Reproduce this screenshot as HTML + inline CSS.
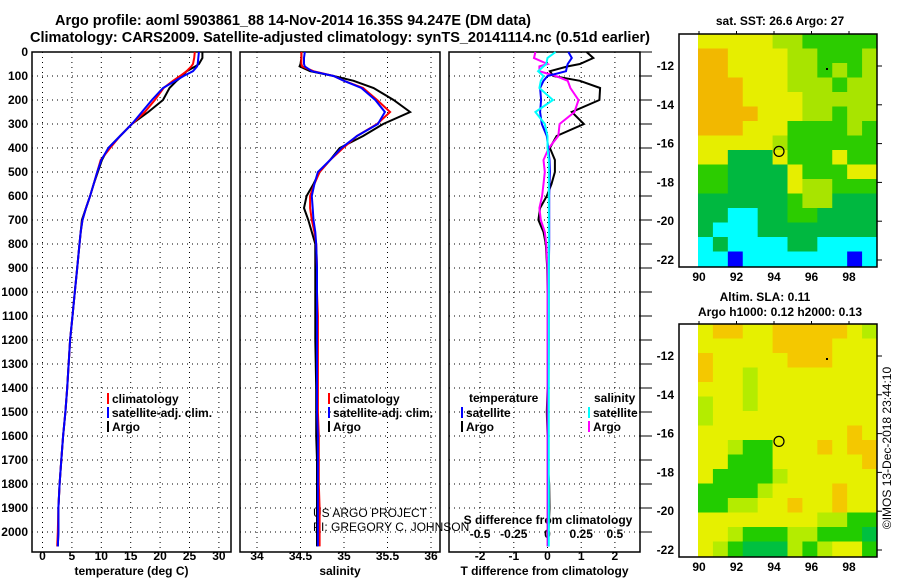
<!DOCTYPE html>
<html><head><meta charset="utf-8"><style>
body{margin:0;background:#fff}
svg{display:block;font-family:"Liberation Sans",sans-serif;font-weight:bold}
</style></head><body>
<svg id="c" width="900" height="580" viewBox="0 0 900 580">
<text x="293" y="25" font-size="14.5" text-anchor="middle" textLength="476">Argo profile: aoml 5903861_88 14-Nov-2014 16.35S 94.247E (DM data)</text>
<text x="340" y="42" font-size="14.5" text-anchor="middle" textLength="620">Climatology: CARS2009. Satellite-adjusted climatology: synTS_20141114.nc (0.51d earlier)</text>
<text x="780" y="25" font-size="12" text-anchor="middle">sat. SST: 26.6 Argo: 27</text>
<text x="765" y="301" font-size="12" text-anchor="middle">Altim. SLA: 0.11</text>
<text x="780" y="316" font-size="12" text-anchor="middle">Argo h1000: 0.12 h2000: 0.13</text>
<text transform="translate(891,448) rotate(-90)" font-size="12" font-weight="normal" text-anchor="middle">©IMOS 13-Dec-2018 23:44:10</text>
<text x="313" y="517" font-size="12" font-weight="normal">US ARGO PROJECT</text>
<text x="313" y="531" font-size="12" font-weight="normal">PI: GREGORY C. JOHNSON</text>
<g id="plots"></g>
</svg>
<script>
// depth levels (m)
const depths=[0,25,50,60,80,100,120,150,200,250,300,350,400,450,500,550,600,650,700,750,800,900,1000,1100,1200,1400,1500,1600,1700,1800,1900,2000,2060];
const tempArgo=[27.2,27.2,26.6,26,24.5,23.8,22.8,21.6,20.5,18,15.2,13.2,11.2,10.1,9.4,8.7,8.1,7.4,6.7,6.5,6.3,5.9,5.5,5.1,4.7,4.2,3.9,3.5,3.2,2.9,2.7,2.7,2.6];
const tempClim=[25.9,25.8,25.6,25.3,24.5,23.4,22.2,20.6,19.1,17.4,15.2,13.2,11.5,9.9,9.3,8.7,8.1,7.4,6.8,6.5,6.3,5.9,5.5,5.1,4.7,4.2,3.9,3.5,3.2,2.9,2.7,2.6,2.5];
const tempSat=[26.6,26.5,26.4,26.3,25.6,24,22.6,20.5,18.6,16.9,15.2,13.2,11.2,10,9.3,8.7,8.1,7.4,6.8,6.5,6.3,5.9,5.5,5.1,4.7,4.2,3.9,3.5,3.2,2.9,2.7,2.7,2.6];
const salArgo=[34.51,34.51,34.5,34.49,34.61,34.88,35.11,35.34,35.57,35.76,35.45,35.22,34.95,34.84,34.72,34.65,34.57,34.54,34.59,34.63,34.67,34.67,34.67,34.67,34.67,34.68,34.68,34.68,34.69,34.69,34.69,34.69,34.69];
const salClim=[34.51,34.51,34.51,34.52,34.65,34.88,35.0,35.22,35.38,35.53,35.38,35.15,34.99,34.84,34.72,34.66,34.61,34.61,34.63,34.66,34.68,34.69,34.69,34.7,34.7,34.7,34.7,34.71,34.71,34.71,34.72,34.72,34.72];
const salSat=[34.55,34.54,34.54,34.55,34.63,34.88,35.0,35.2,35.36,35.47,35.39,35.15,34.97,34.84,34.7,34.66,34.63,34.64,34.65,34.67,34.68,34.69,34.69,34.69,34.69,34.69,34.69,34.7,34.7,34.7,34.7,34.7,34.7];
const dTArgo=[1.16,1.36,0.96,0.6,0.07,0.17,0.96,1.56,1.54,0.72,1.08,0.27,0.07,0.22,0.22,0.12,-0.02,-0.22,-0.27,-0.12,-0.05,-0.01,0,0,0,0,-0.02,0,0,0.05,0.06,0.03,0.03];
const dTSat=[0.62,0.72,0.6,0.58,0.55,0.0,-0.12,-0.22,-0.19,-0.22,-0.17,-0.02,0.02,0.06,0.07,0.06,0.05,0.05,0.05,0.05,0.05,0.04,0.04,0.04,0.04,0.03,0.03,0.03,0.03,0.03,0.03,0.03,0.03];
const dSArgo=[-0.09,-0.1,0.0,-0.06,-0.06,0.06,0.15,0.17,0.23,0.2,0.09,0.08,0.01,-0.03,-0.02,-0.03,-0.04,-0.06,-0.05,-0.02,-0.01,0,0,0,0,0,0,0,0,0,0,0,0];
const dSSat=[0.06,0.0,-0.01,-0.03,-0.07,-0.03,-0.05,-0.06,0.04,-0.09,-0.02,0.0,0.0,0.01,0.01,0.01,0.01,0.01,0.01,0.01,0.01,0.01,0.01,0.01,0.01,0.01,0.01,0.01,0.01,0.01,0.01,0.01,0.01];
const depthTicks=[0,100,200,300,400,500,600,700,800,900,1000,1100,1200,1300,1400,1500,1600,1700,1800,1900,2000];
const tempTicks=[0,5,10,15,20,25,30];
const salTicks=[34,34.5,35,35.5,36];
const dTTicks=[-2,-1,0,1,2];
const dSTicks=[-0.5,-0.25,0,0.25,0.5];
const sstRows=["yyyyyllggggg","ooyyyyllgggl","ooyyyyllglgl","oooyyylllgll","oooyyyylllll","ooooyyyllgll","oooyyygggglg","yyyyylgggggg","yydddygggygg","ggddddygggyy","ggddddyllggg","ddddddgllsdd","ddccddggdddd","dcccdddddddd","cdccccddcccc","ccbcccccccbc"];
const slaRows=["yooyyoooooyl","yyyyyooooyyy","oyyyyyoooyyy","oyylyyyyyyyy","yyylyyyyyyyy","lyylyyyyyyyy","lyyyyyyyyyyy","yyyyyyyyyyoy","yylggyyyoyoo","yygggyyyyyyo","yggggjyyyyyy","ggggjyyyyoyy","ggjjyyoyyoyy","yyyyyyyyjjgg","yyjgggjjgggd","yjgdddjgjyyg"];

const NS="http://www.w3.org/2000/svg";
const root=document.getElementById('plots');
function mk(tag,at,parent){const e=document.createElementNS(NS,tag);for(const k in at)e.setAttribute(k,at[k]);(parent||root).appendChild(e);return e;}
const Y0=52,YS=0.24,PB=552;
const yD=d=>Y0+d*YS;
const panels=[
 {l:32,r:231,x:v=>42.5+v*5.88,ticks:tempTicks,title:"temperature (deg C)",name:"temperature-panel"},
 {l:240,r:440,x:v=>257+(v-34)*87,ticks:salTicks,title:"salinity",name:"salinity-panel"},
 {l:449,r:640,x:v=>547.5+v*33.7,ticks:dTTicks,title:"T difference from climatology",name:"difference-panel"}
];
const xS=v=>547.5+v*134.8;
panels.forEach((p,i)=>{
 const g=mk('g',{});
 
 
 depthTicks.forEach(d=>{const l=mk('line',{x1:p.l,x2:p.r,y1:yD(d),y2:yD(d),stroke:'#000','stroke-width':1,'stroke-dasharray':'1,4'},g);
  
  if(i===0){const t=mk('text',{x:28,y:yD(d)+4,'font-size':12,'text-anchor':'end'},g);t.textContent=d;
   }
 });
 p.ticks.forEach(v=>{const x=p.x(v);
  const l=mk('line',{x1:x,x2:x,y1:Y0,y2:PB,stroke:'#000','stroke-width':1,'stroke-dasharray':'1,4'},g);
  
  const t=mk('text',{x:x,y:560,'font-size':12,'text-anchor':'middle'},g);t.textContent=v;
  
 });
 const b=mk('rect',{x:p.l,y:Y0,width:p.r-p.l,height:PB-Y0,fill:'none',stroke:'#000','stroke-width':1.5},g);
 
 const tt=mk('text',{x:(p.l+p.r)/2,y:575,'font-size':12,'text-anchor':'middle'},g);tt.textContent=p.title;
 
});
dSTicks.forEach(v=>{const t=mk('text',{x:xS(v),y:538,'font-size':12,'text-anchor':'middle'});t.textContent=v;
 });
const st=mk('text',{x:548,y:524,'font-size':12,'text-anchor':'middle'});st.textContent='S difference from climatology';

depthTicks.forEach(d=>{const l=mk('line',{x1:640,x2:652,y1:yD(d),y2:yD(d),stroke:'#000'});});

function series(vals,xf,color,name,w){
 const pts=vals.map((v,k)=>xf(v).toFixed(1)+','+yD(depths[k]).toFixed(1)).join(' ');
 const pl=mk('polyline',{points:pts,fill:'none',stroke:color,'stroke-width':w||2});
 
}
series(tempArgo,panels[0].x,'#000','temp-argo-line');
series(tempClim,panels[0].x,'#f00','temp-clim-line');
series(tempSat,panels[0].x,'#00f','temp-sat-line');
series(salArgo,panels[1].x,'#000','sal-argo-line');
series(salClim,panels[1].x,'#f00','sal-clim-line');
series(salSat,panels[1].x,'#00f','sal-sat-line');
series(dTArgo,panels[2].x,'#000','dt-argo-line');
series(dSArgo,xS,'#f0f','ds-argo-line');
series(dTSat,panels[2].x,'#00f','dt-sat-line');
series(dSSat,xS,'#0ff','ds-sat-line');

function legend(x,y,color,label){
 const r=mk('rect',{x:x,y:y-9,width:2,height:11,fill:color});
 
 const t=mk('text',{x:x+5,y:y+1,'font-size':12});t.textContent=label;
 
}
[[107,'#f00','climatology'],[107,'#00f','satellite-adj. clim.'],[107,'#000','Argo']].forEach((e,k)=>legend(e[0],402+k*14,e[1],e[2]));
[[328,'#f00','climatology'],[328,'#00f','satellite-adj. clim.'],[328,'#000','Argo']].forEach((e,k)=>legend(e[0],402+k*14,e[1],e[2]));
const lt=mk('text',{x:469,y:402,'font-size':12});lt.textContent='temperature';
const ls=mk('text',{x:594,y:402,'font-size':12});ls.textContent='salinity';
legend(461,416,'#00f','satellite');legend(461,430,'#000','Argo');
legend(588,416,'#0ff','satellite');legend(588,430,'#f0f','Argo');

const cols={o:'#f2b800',y:'#e6ee00',l:'#a8e400',g:'#2ccc00',d:'#00b840',c:'#00ffff',b:'#0000ff',j:'#b4ee00',s:'#00b840'};
const slaCols={o:'#f4c800',y:'#e6f000',j:'#b4ec00',l:'#b4ec00',g:'#22cc00',d:'#00c040'};
function map(rows,pal,top,name){
 const g=mk('g',{});
 const x0=698,x1=877,y0=top,y1=top+232;
 rows.forEach((row,r)=>{
  for(let c=0;c<12;c++){const ch=row[c]||'d';
   const rc=mk('rect',{x:x0+c*(x1-x0)/12,y:y0+r*(y1-y0)/rows.length,width:(x1-x0)/12+0.5,height:(y1-y0)/rows.length+0.5,fill:pal[ch]||'#00b840'},g);
   }
 });
 const fr=mk('rect',{x:679,y:top,width:198,height:233,fill:'none',stroke:'#000','stroke-width':1.5},g);
 
 const lonX=lo=>699+(lo-90)*18.75;
 [90,92,94,96,98].forEach(lo=>{const t=mk('text',{x:lonX(lo),y:top+247,'font-size':12,'text-anchor':'middle'},g);t.textContent=lo;
  
  mk('line',{x1:lonX(lo),x2:lonX(lo),y1:top-3,y2:top,stroke:'#000'},g);});
 [-12,-14,-16,-18,-20,-22].forEach(la=>{const y=top+32+(-12-la)*19.4;
  const t=mk('text',{x:674,y:y+4,'font-size':12,'text-anchor':'end'},g);t.textContent=la;
  
  mk('line',{x1:877,x2:882,y1:y,y2:y,stroke:'#000'},g);});
 const ci=mk('circle',{cx:779,cy:top+32+4.4*19.4,r:5,fill:'none',stroke:'#000','stroke-width':1.2},g);
 
 mk('rect',{x:826,y:top+34,width:2,height:2,fill:'#000'},g);
}
map(sstRows,cols,34,'sst-map');
map(slaRows,slaCols,324,'sla-map');
</script>
</body></html>
